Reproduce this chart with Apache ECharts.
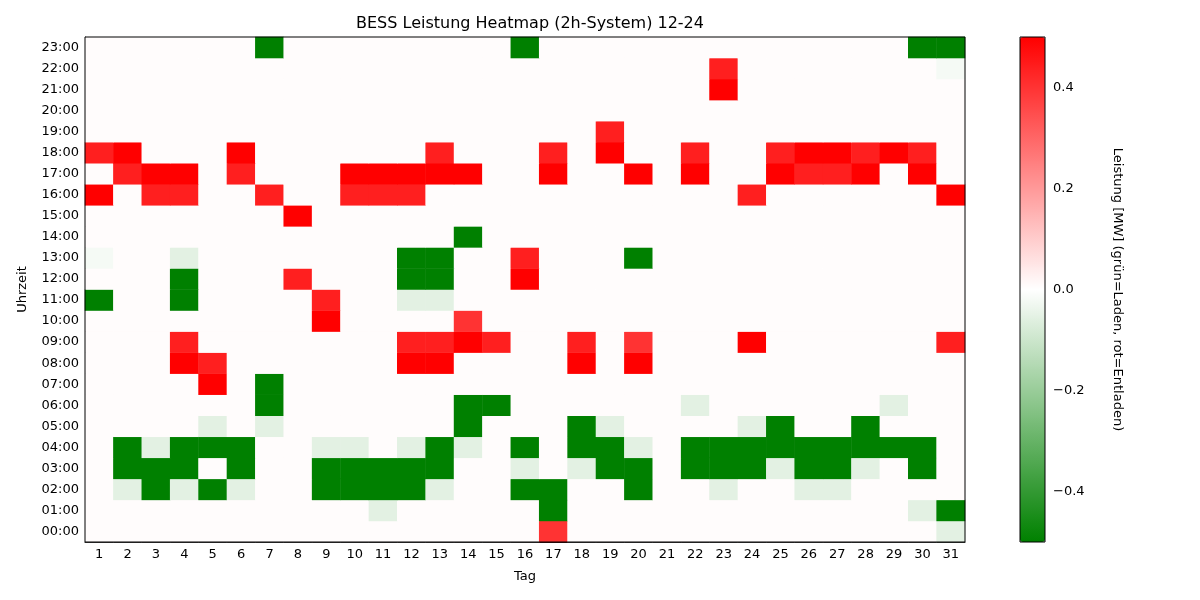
<!DOCTYPE html>
<html lang="de">
<head>
    <meta charset="UTF-8">
    <title>BESS Leistung Heatmap</title>
    <script src="https://cdn.jsdelivr.net/npm/echarts@6/dist/echarts.min.js"></script>
    <style>
        body { margin: 0; background: #fff; }
        #chart { width: 1200px; height: 600px; }
    </style>
</head>
<body>
<div id="chart"></div>
<script>
    // Tage 1..31, Stunden 00:00..23:00
    const days = Array.from({length: 31}, (_, i) => String(i + 1));
    const hours = Array.from({length: 24}, (_, i) => (i < 10 ? '0' : '') + i + ':00');

    // Leistungsstufen (MW)
    const levels = {'.': 0.005, 'v': -0.02, 'g': -0.055, 'G': -0.5, 'o': 0.4, 'r': 0.44, 'R': 0.5};

    // eine Zeile je Stunde (00:00 zuerst), ein Zeichen je Tag, Gruppen zu 5 Tagen
    const hourRows = [
        '..... ..... ..... .o... ..... ..... g', // 00
        '..... ..... g.... .G... ..... ....g G', // 01
        '.gGgG g..GG GGg.. GG..G ..g.. gg... .', // 02
        '.GGG. G..GG GGG.. g.gGG .GGGg GGg.G .', // 03
        '.GgGG G..gg .gGg. G.GGg .GGGG GGGGG .', // 04
        '....g .g... ...G. ..Gg. ...gG ..G.. .', // 05
        '..... .G... ...GG ..... .g... ...g. .', // 06
        '....R .G... ..... ..... ..... ..... .', // 07
        '...Rr ..... .RR.. ..R.R ..... ..... .', // 08
        '...r. ..... .rrRr ..r.o ...R. ..... r', // 09
        '..... ...R. ...o. ..... ..... ..... .', // 10
        'G..G. ...r. .gg.. ..... ..... ..... .', // 11
        '...G. ..r.. .GG.. R.... ..... ..... .', // 12
        'v..g. ..... .GG.. r...G ..... ..... .', // 13
        '..... ..... ...G. ..... ..... ..... .', // 14
        '..... ..R.. ..... ..... ..... ..... .', // 15
        'R.rr. .r..r rr... ..... ...r. ..... R', // 16
        '.rRR. r...R RRRR. .R..R .R..R rrR.R .', // 17
        'rR... R.... ..r.. .r.R. .r..r RRrRr .', // 18
        '..... ..... ..... ...r. ..... ..... .', // 19
        '..... ..... ..... ..... ..... ..... .', // 20
        '..... ..... ..... ..... ..R.. ..... .', // 21
        '..... ..... ..... ..... ..r.. ..... v', // 22
        '..... .G... ..... G.... ..... ....G G'  // 23
    ];

    const barTicks = [-0.4, -0.2, 0, 0.2, 0.4];

    const data = [];
    hourRows.forEach((row, h) => {
        row.replace(/ /g, '').split('').forEach((c, d) => {
            data.push([d, h, levels[c]]);
        });
    });

    const font = 'DejaVu Sans';
    const chart = echarts.init(document.getElementById('chart'));
    chart.setOption({
        animation: false,
        textStyle: {fontFamily: font},
        title: {
            text: 'BESS Leistung Heatmap (2h-System) 12-24',
            left: 525, top: 11, textAlign: 'center',
            textStyle: {fontFamily: font, fontSize: 16, fontWeight: 'normal', color: '#000'}
        },
        grid: [
            {left: 85, right: 235, top: 37, bottom: 58, show: true, borderColor: '#000', borderWidth: 1, z: 10},
            {left: 1020, width: 25, top: 37, height: 505, show: true, borderColor: '#000', borderWidth: 1, z: 10}
        ],
        xAxis: [{
            type: 'category', data: days, gridIndex: 0,
            name: 'Tag', nameLocation: 'middle', nameGap: 28,
            nameTextStyle: {color: '#000', fontSize: 13},
            axisLine: {lineStyle: {color: '#000'}},
            axisTick: {alignWithLabel: true, lineStyle: {color: '#000'}, length: 4},
            axisLabel: {color: '#000', fontSize: 13, interval: 0, margin: 6},
            splitLine: {show: false}
        }, {
            type: 'value', gridIndex: 1, show: false, min: 0, max: 1
        }],
        yAxis: [{
            type: 'category', data: hours, gridIndex: 0,
            name: 'Uhrzeit', nameLocation: 'middle', nameGap: 56,
            nameTextStyle: {color: '#000', fontSize: 13},
            axisLine: {lineStyle: {color: '#000'}},
            axisTick: {alignWithLabel: true, lineStyle: {color: '#000'}, length: 4},
            axisLabel: {color: '#000', fontSize: 13, interval: 0, margin: 6},
            splitLine: {show: false}
        }, {
            type: 'value', gridIndex: 1, position: 'right', min: -0.5, max: 0.5,
            name: 'Leistung [MW] (grün=Laden, rot=Entladen)',
            nameLocation: 'middle', nameRotate: -90, nameGap: 66,
            nameTextStyle: {color: '#000', fontSize: 13},
            axisLine: {show: false},
            axisTick: {show: true, customValues: barTicks, length: 4, lineStyle: {color: '#000'}},
            axisLabel: {
                color: '#000', fontSize: 13, margin: 8, customValues: barTicks,
                formatter: v => (v < 0 ? '\u2212' : '') + Math.abs(v).toFixed(1)
            },
            splitLine: {show: false}
        }],
        visualMap: {
            type: 'continuous', min: -0.5, max: 0.5, seriesIndex: 0,
            calculable: false, showLabel: false, text: null, padding: 0,
            left: 1020, top: 37, itemWidth: 25, itemHeight: 505,
            inRange: {color: ['#008000', '#ffffff', '#ff0000']}
        },
        series: [{
            type: 'heatmap', xAxisIndex: 0, yAxisIndex: 0,
            data: data, itemStyle: {borderWidth: 0}
        }]
    });
</script>
</body>
</html>
